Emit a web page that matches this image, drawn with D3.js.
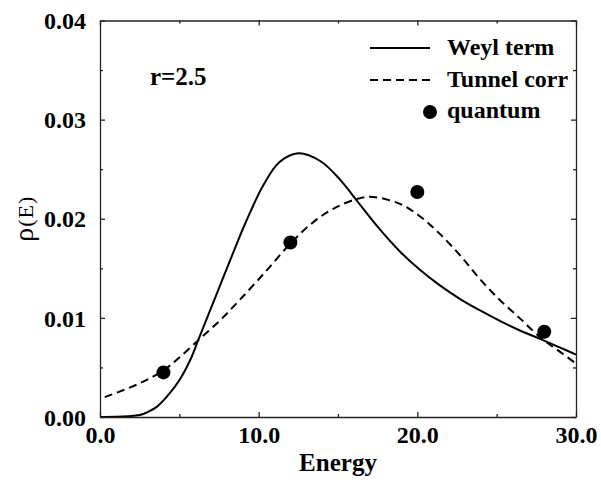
<!DOCTYPE html>
<html lang="en">
  <head>
    <meta charset="UTF-8" />
    <title>rho(E)</title>
    <script src="https://d3js.org/d3.v7.min.js"></script>
    <style>
      body { margin: 0; background: white; }
      text { font-family: "Liberation Serif", "Times New Roman", serif; fill: black; }
      .bold { font-weight: bold; }
      .axis path, .axis line { stroke: #222; stroke-width: 1.3px; }
      .curve { fill: none; stroke: black; stroke-width: 2px; }
    </style>
  </head>
  <body>
    <svg id="chart" width="601" height="480"></svg>
    <script>
      // Weyl term (solid line)
      const weylE   = [0, 1, 1.8, 2.5, 3, 3.6, 4.4, 5.0, 5.7, 6.2, 6.7, 7.25, 7.7, 8.2, 8.6, 9.2, 10.3, 11.3, 12.5, 13.9, 15.1, 16.2, 17.6, 18.9, 20.2, 21.4, 22.7, 23.9, 25.2, 26.5, 27.7, 29.0, 30];
      const weylRho = [0, 0.00002, 0.00008, 0.0002, 0.0005, 0.00105, 0.0024, 0.0037, 0.0058, 0.0078, 0.0098, 0.0120, 0.0138, 0.0158, 0.0174, 0.0197, 0.0234, 0.0257, 0.0266, 0.0258, 0.0240, 0.0218, 0.0190, 0.0167, 0.0148, 0.0133, 0.0119, 0.0108, 0.0097, 0.0087, 0.0079, 0.0070, 0.0063];

      // Tunnel correction (dashed line)
      const tunnelE   = [0.3, 2.5, 4, 5.0, 6.3, 7.6, 8.8, 10.4, 12, 13.4, 14.7, 16.2, 17.2, 18.9, 20.2, 21.4, 22.7, 23.9, 25.2, 26.5, 27.7, 28.8, 30];
      const tunnelRho = [0.0020, 0.0034, 0.0047, 0.0060, 0.0079, 0.0098, 0.0118, 0.0146, 0.0175, 0.0196, 0.0210, 0.0220, 0.0222, 0.0215, 0.0202, 0.0185, 0.0163, 0.0140, 0.0118, 0.0099, 0.0081, 0.0068, 0.0054];

      // quantum points
      const quantumE   = [4, 12, 20, 28];
      const quantumRho = [0.0045, 0.0176, 0.0227, 0.0086];

      const xTicks = [0, 10, 20, 30];
      const xMinor = [5, 15, 25];
      const yTicks = [0, 0.01, 0.02, 0.03, 0.04];
      const yMinor = [0.005, 0.015, 0.025, 0.035];

      const legendLabels = ["Weyl term", "Tunnel corr", "quantum"];

      const svg = d3.select("#chart");
      const plotL = 100, plotR = 576, plotT = 20.5, plotB = 417;

      const x = d3.scaleLinear().domain([0, 30]).range([plotL, plotR]);
      const y = d3.scaleLinear().domain([0, 0.04]).range([plotB, plotT]);

      // curves
      const line = d3.line()
        .x(d => x(d[0]))
        .y(d => y(d[1]))
        .curve(d3.curveCatmullRom.alpha(0.5));

      svg.append("path")
        .attr("class", "curve")
        .attr("d", line(d3.zip(weylE, weylRho)));

      svg.append("path")
        .attr("class", "curve")
        .attr("stroke-dasharray", "8,5")
        .attr("d", line(d3.zip(tunnelE, tunnelRho)));

      svg.selectAll("circle.q")
        .data(d3.zip(quantumE, quantumRho))
        .join("circle")
        .attr("class", "q")
        .attr("cx", d => x(d[0]))
        .attr("cy", d => y(d[1]))
        .attr("r", 7)
        .attr("fill", "black");

      // axes, ticks pointing inward on all four sides
      function addAxis(axis, tx, ty) {
        return svg.append("g")
          .attr("class", "axis")
          .attr("transform", "translate(" + tx + "," + ty + ")")
          .call(axis);
      }

      const xb = addAxis(d3.axisBottom(x).tickValues(xTicks).tickSizeInner(-5).tickSizeOuter(0).tickFormat(d3.format(".1f")), 0, plotB);
      xb.selectAll("text").attr("class", "bold").attr("font-size", 24).attr("y", 26).attr("dy", 0);
      addAxis(d3.axisBottom(x).tickValues(xMinor).tickSizeInner(-3).tickSizeOuter(0).tickFormat(""), 0, plotB).select(".domain").remove();

      addAxis(d3.axisTop(x).tickValues(xTicks).tickSizeInner(-5).tickSizeOuter(0).tickFormat(""), 0, plotT);
      addAxis(d3.axisTop(x).tickValues(xMinor).tickSizeInner(-3).tickSizeOuter(0).tickFormat(""), 0, plotT).select(".domain").remove();

      const yl = addAxis(d3.axisLeft(y).tickValues(yTicks).tickSizeInner(-5).tickSizeOuter(0).tickFormat(d3.format(".2f")), plotL, 0);
      yl.selectAll("text").attr("class", "bold").attr("font-size", 24).attr("x", -14).attr("dy", "0.34em");
      addAxis(d3.axisLeft(y).tickValues(yMinor).tickSizeInner(-3).tickSizeOuter(0).tickFormat(""), plotL, 0).select(".domain").remove();

      addAxis(d3.axisRight(y).tickValues(yTicks).tickSizeInner(-5).tickSizeOuter(0).tickFormat(""), plotR, 0);
      addAxis(d3.axisRight(y).tickValues(yMinor).tickSizeInner(-3).tickSizeOuter(0).tickFormat(""), plotR, 0).select(".domain").remove();

      svg.selectAll(".axis .tick text").attr("fill", "black");

      // axis titles
      svg.append("text")
        .attr("class", "bold")
        .attr("x", (plotL + plotR) / 2)
        .attr("y", 471)
        .attr("text-anchor", "middle")
        .attr("font-size", 25)
        .text("Energy");

      const yt = svg.append("text")
        .attr("transform", "translate(33," + (plotT + plotB) / 2 + ") rotate(-90)")
        .attr("text-anchor", "middle")
        .attr("font-size", 22)
        .attr("letter-spacing", 1);
      yt.append("tspan").attr("font-size", 28).text("ρ");
      yt.append("tspan").text("(E)");

      svg.append("text")
        .attr("class", "bold")
        .attr("x", 150)
        .attr("y", 85)
        .attr("font-size", 25)
        .text("r=2.5");

      // legend
      const lg = svg.append("g");
      lg.append("line").attr("class", "curve").attr("x1", 370).attr("x2", 430).attr("y1", 48).attr("y2", 48);
      lg.append("line").attr("class", "curve").attr("stroke-dasharray", "8,5").attr("x1", 370).attr("x2", 430).attr("y1", 80).attr("y2", 80);
      lg.append("circle").attr("cx", 430).attr("cy", 112).attr("r", 7).attr("fill", "black");
      lg.selectAll("text")
        .data(legendLabels)
        .join("text")
        .attr("class", "bold")
        .attr("x", 447)
        .attr("y", (d, i) => 55 + i * 31.5)
        .attr("font-size", 24)
        .text(d => d);
    </script>
  </body>
</html>
